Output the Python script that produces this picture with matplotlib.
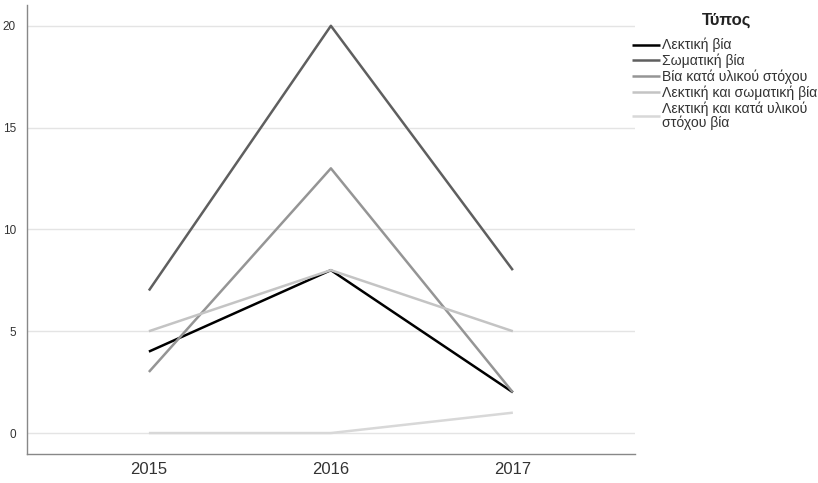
import matplotlib
matplotlib.use("Agg")
import matplotlib.pyplot as plt

plt.rcParams['font.family'] = ['Liberation Sans', 'DejaVu Sans']

years = ["2015", "2016", "2017"]
lektiki = [4, 8, 2]
somatiki = [7, 20, 8]
yliko = [3, 13, 2]
lekt_som = [5, 8, 5]
lekt_yl = [0, 0, 1]
labels = ["Λεκτική βία", "Σωματική βία", "Βία κατά υλικού στόχου",
          "Λεκτική και σωματική βία", "Λεκτική και κατά υλικού\nστόχου βία"]
colors = ["#000000", "#5f5f5f", "#959595", "#c4c4c4", "#d8d8d8"]
yticks = [0, 5, 10, 15, 20]

fig = plt.figure(figsize=(8.18, 4.83), dpi=100)
ax = fig.add_axes([0.033, 0.060, 0.743, 0.930])

x = list(range(len(years)))
for vals, lab, c in zip([lektiki, somatiki, yliko, lekt_som, lekt_yl], labels, colors):
    ax.plot(x, vals, color=c, lw=1.8, label=lab, solid_capstyle='butt')

ax.set_xlim(-0.67, 2.67)
ax.set_ylim(-1.03, 21.03)
ax.set_xticks(x)
ax.set_xticklabels(years, fontsize=12, color="#333333")
ax.tick_params(length=0, pad=6)
ax.set_yticks(yticks)
ax.set_yticklabels([str(t) for t in yticks], fontsize=8.5, color="#333333")
ax.tick_params(axis='y', pad=8)
ax.grid(axis='y', color="#e4e4e4", lw=1)
ax.set_axisbelow(True)
for s in ['top', 'right']:
    ax.spines[s].set_visible(False)
for s in ['left', 'bottom']:
    ax.spines[s].set_color("#888888")
    ax.spines[s].set_linewidth(1)

fig.text(727 / 818, 1 - 20 / 483, "Τύπος", fontsize=12, fontweight='bold',
         ha='center', va='center', color="#222222")
leg = ax.legend(loc='upper left', bbox_to_anchor=(632 / 818, 1 - 38 / 483), bbox_transform=fig.transFigure,
                frameon=False, fontsize=10.1, handlelength=2.0,
                handletextpad=0.15, labelspacing=0.1, borderaxespad=0, borderpad=0)
for t in leg.get_texts():
    t.set_color("#333333")
    t.set_linespacing(0.92)

fig.savefig("out.png", dpi=100)
